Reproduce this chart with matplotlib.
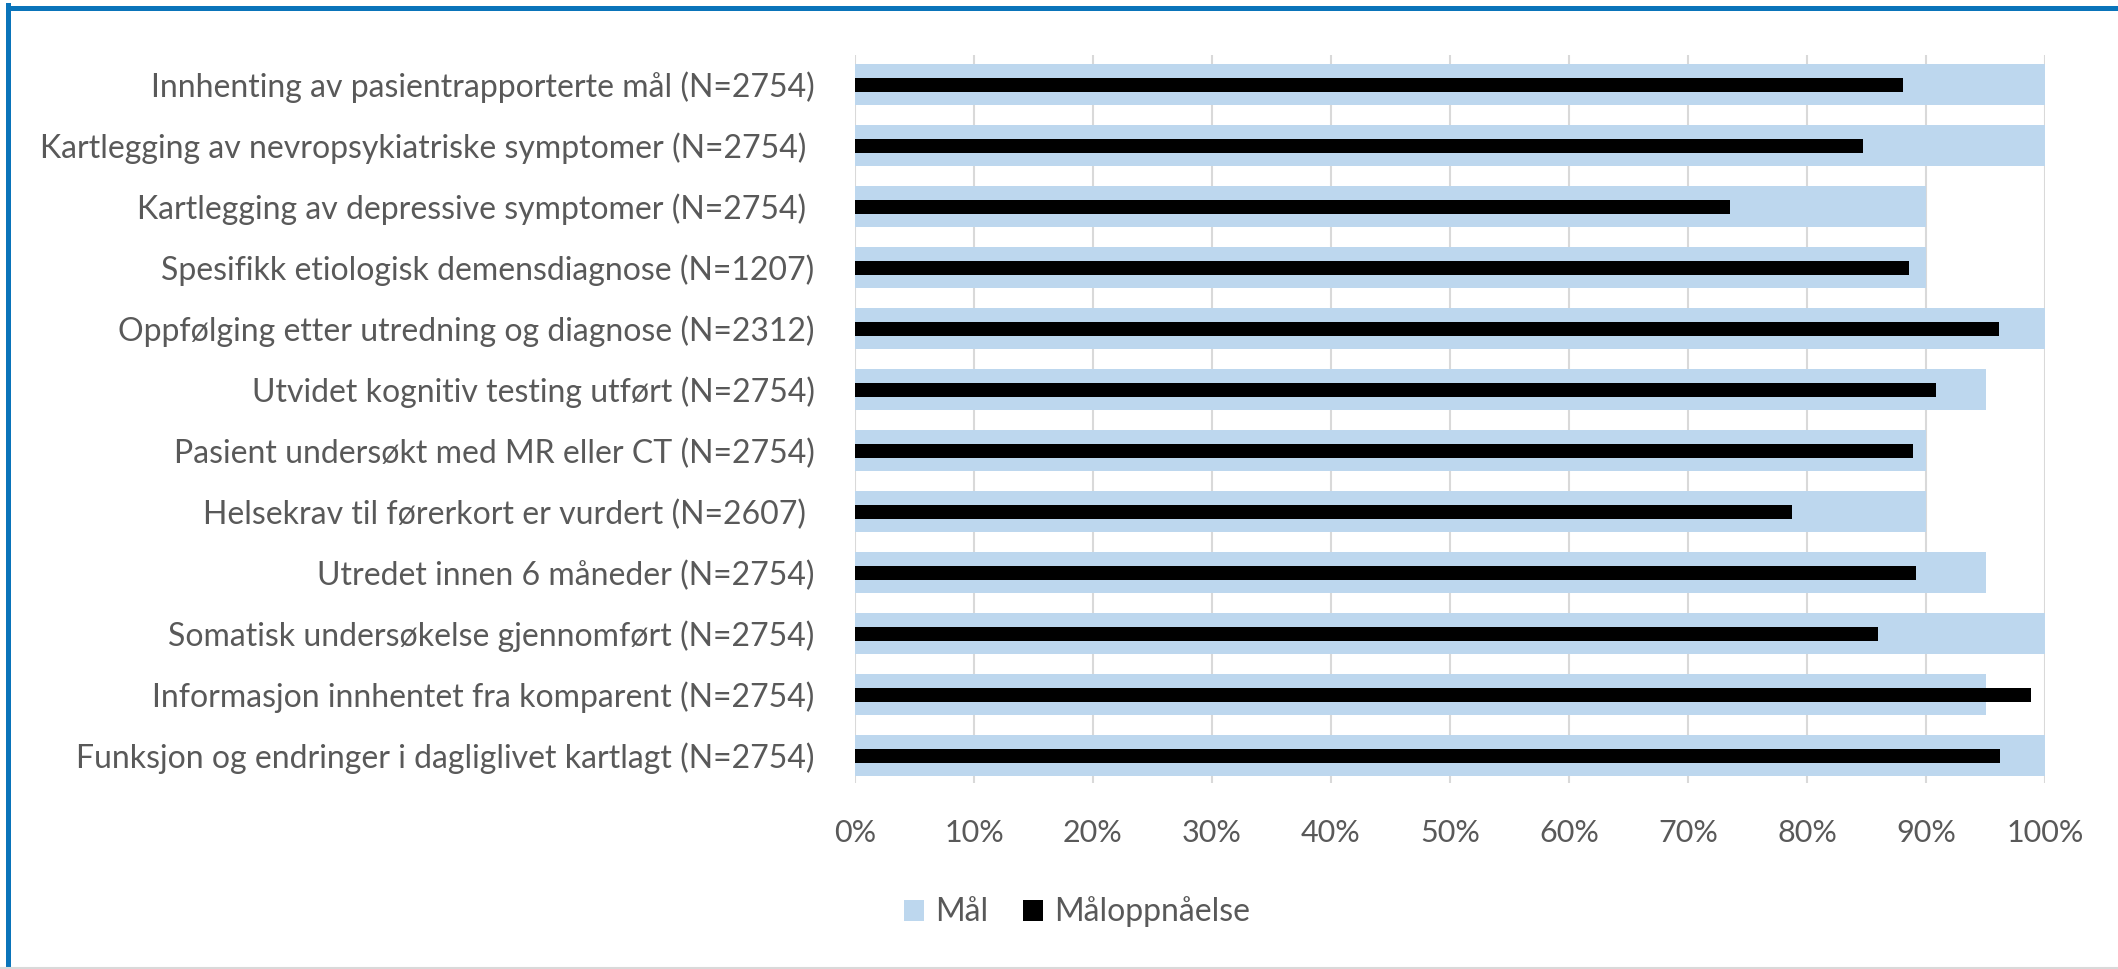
import matplotlib
matplotlib.use('Agg')
import matplotlib.pyplot as plt
from matplotlib.lines import Line2D
from matplotlib.ticker import FuncFormatter
import numpy as np

plt.rcParams['font.family'] = ['Lato', 'DejaVu Sans']

labels = [
    "Innhenting av pasientrapporterte mål (N=2754)",
    "Kartlegging av nevropsykiatriske symptomer (N=2754) ",
    "Kartlegging av depressive symptomer (N=2754) ",
    "Spesifikk etiologisk demensdiagnose (N=1207)",
    "Oppfølging etter utredning og diagnose (N=2312)",
    "Utvidet kognitiv testing utført (N=2754)",
    "Pasient undersøkt med MR eller CT (N=2754)",
    "Helsekrav til førerkort er vurdert (N=2607) ",
    "Utredet innen 6 måneder (N=2754)",
    "Somatisk undersøkelse gjennomført (N=2754)",
    "Informasjon innhentet fra komparent (N=2754)",
    "Funksjon og endringer i dagliglivet kartlagt (N=2754)",
]
maal = [100, 100, 90, 90, 100, 95, 90, 90, 95, 100, 95, 100]
maaloppnaaelse = [88.1, 84.7, 73.5, 88.6, 96.1, 90.8, 88.9, 78.7, 89.2, 86.0, 98.8, 96.2]
xticks = [0, 10, 20, 30, 40, 50, 60, 70, 80, 90, 100]

TEXT = '#595959'
W, H = 2118, 969

fig = plt.figure(figsize=(W / 100, H / 100), dpi=100)
ax = fig.add_axes([855 / W, 1 - 783 / H, (2045 - 855) / W, (783 - 55) / H])

y = np.arange(len(labels))
ax.barh(y, maal, height=0.67, color='#BDD7EE', label='Mål', zorder=2)
ax.barh(y, maaloppnaaelse, height=0.23, color='#000000', label='Måloppnåelse', zorder=3)

ax.set_ylim(11.45, -0.484)
ax.set_xlim(0, 100)
ax.set_xticks(xticks)
ax.xaxis.set_major_formatter(FuncFormatter(lambda v, p: f"{v:.0f}%"))
ax.set_yticks(y)
ax.set_yticklabels(labels)

ax.grid(axis='x', color='#D9D9D9', linewidth=1.5, zorder=0)
ax.set_axisbelow(True)
for s in ax.spines.values():
    s.set_visible(False)
ax.tick_params(axis='y', length=0, colors=TEXT, labelsize=23, pad=29)
ax.tick_params(axis='x', length=0, colors=TEXT, labelsize=22, pad=26)

leg = fig.legend(loc='center', bbox_to_anchor=(1077 / W, 1 - 912 / H), ncol=2,
                 frameon=False, fontsize=23, handlelength=0.63, handleheight=0.63,
                 handletextpad=0.34, columnspacing=1.1)
for t in leg.get_texts():
    t.set_color(TEXT)

# chart frame
fig.add_artist(Line2D([7.5 / W, 1], [1 - 7.5 / H, 1 - 7.5 / H], transform=fig.transFigure,
                      color='#0A74BA', linewidth=3.6))
fig.add_artist(Line2D([7.5 / W, 7.5 / W], [0, 1 - 5 / H], transform=fig.transFigure,
                      color='#0A74BA', linewidth=3.6))
fig.add_artist(Line2D([0, 1], [1.5 / H, 1.5 / H], transform=fig.transFigure,
                      color='#D9D9D9', linewidth=1.5))

fig.savefig('out.png', dpi=100, facecolor='white')
